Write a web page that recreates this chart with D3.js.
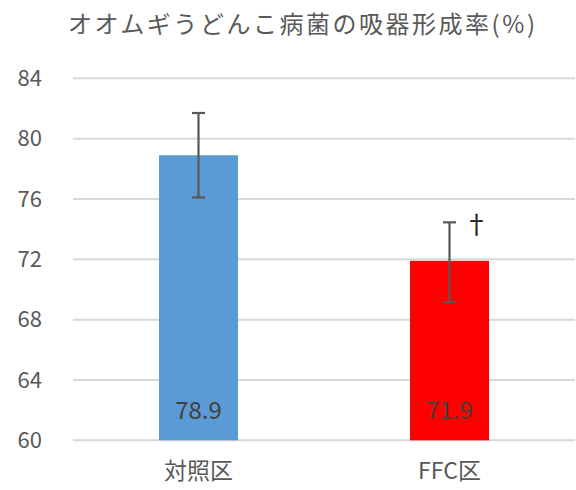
<!DOCTYPE html>
<html><head><meta charset="utf-8">
<script src="https://cdn.jsdelivr.net/npm/d3@7"></script>
<style>body{margin:0;background:#fff}svg{display:block}</style>
</head><body>
<svg id="c" width="576" height="490"></svg>
<script>
const title = "オオムギうどんこ病菌の吸器形成率(%)";
const categories = ["対照区", "FFC区"];
const values = [78.9, 71.9];
const errUp = [2.8, 2.55];
const errDown = [2.8, 2.75];
const colors = ["#5b9bd5", "#ff0000"];
const marks = ["", "†"];
const yTicks = [60, 64, 68, 72, 76, 80, 84];

const svg = d3.select("#c");
const font = "'Noto Sans CJK JP', 'Noto Sans', sans-serif";
const x = d3.scaleBand().domain(categories).range([73, 575]).paddingInner(0.685).paddingOuter(0.3425);
const y = d3.scaleLinear().domain([60, 84]).range([440.3, 78.3]);

svg.append("text").attr("x", 68).attr("y", 33)
  .attr("textLength", 467).attr("lengthAdjust", "spacing")
  .attr("font-family", font).attr("font-size", 24).attr("fill", "#595959").text(title);

const g = svg.append("g");
g.selectAll("line.grid").data(yTicks).join("line").attr("class", "grid")
  .attr("x1", 73).attr("x2", 575).attr("y1", d => y(d)).attr("y2", d => y(d))
  .attr("stroke", "#d9d9d9").attr("stroke-width", 2);
g.selectAll("text.yt").data(yTicks).join("text").attr("class", "yt")
  .attr("x", 42).attr("y", d => y(d)).attr("dy", "0.35em").attr("text-anchor", "end")
  .attr("font-family", font).attr("font-size", 22).attr("fill", "#595959").text(d => d);

g.selectAll("rect.bar").data(values).join("rect").attr("class", "bar")
  .attr("x", (d, i) => x(categories[i])).attr("width", x.bandwidth())
  .attr("y", d => y(d)).attr("height", d => y(60) - y(d))
  .attr("fill", (d, i) => colors[i]);

const eb = g.selectAll("g.eb").data(values).join("g").attr("class", "eb");
eb.append("line").attr("x1", (d, i) => x(categories[i]) + x.bandwidth() / 2).attr("x2", (d, i) => x(categories[i]) + x.bandwidth() / 2)
  .attr("y1", (d, i) => y(d + errUp[i])).attr("y2", (d, i) => y(d - errDown[i]))
  .attr("stroke", "#595959").attr("stroke-width", 2.2);
eb.append("line").attr("x1", (d, i) => x(categories[i]) + x.bandwidth() / 2 - 6.5).attr("x2", (d, i) => x(categories[i]) + x.bandwidth() / 2 + 6.5)
  .attr("y1", (d, i) => y(d + errUp[i])).attr("y2", (d, i) => y(d + errUp[i]))
  .attr("stroke", "#595959").attr("stroke-width", 2.2);
eb.append("line").attr("x1", (d, i) => x(categories[i]) + x.bandwidth() / 2 - 6.5).attr("x2", (d, i) => x(categories[i]) + x.bandwidth() / 2 + 6.5)
  .attr("y1", (d, i) => y(d - errDown[i])).attr("y2", (d, i) => y(d - errDown[i]))
  .attr("stroke", "#595959").attr("stroke-width", 2.2);

g.selectAll("text.mark").data(values).join("text").attr("class", "mark")
  .attr("x", (d, i) => x(categories[i]) + x.bandwidth() / 2 + 27).attr("y", (d, i) => y(d + errUp[i]) + 12)
  .attr("text-anchor", "middle").attr("font-family", font).attr("font-size", 26).attr("fill", "#262626")
  .text((d, i) => marks[i]);

g.selectAll("text.dl").data(values).join("text").attr("class", "dl")
  .attr("x", (d, i) => x(categories[i]) + x.bandwidth() / 2).attr("y", y(60) - 30).attr("dy", "0.35em")
  .attr("text-anchor", "middle").attr("font-family", font).attr("font-size", 24).attr("fill", "#404040")
  .text(d => d.toFixed(1));

g.selectAll("text.xl").data(categories).join("text").attr("class", "xl")
  .attr("x", d => x(d) + x.bandwidth() / 2).attr("y", 471).attr("dy", "0.35em")
  .attr("text-anchor", "middle").attr("font-family", font).attr("font-size", 23).attr("fill", "#595959")
  .text(d => d);
</script>
</body></html>
